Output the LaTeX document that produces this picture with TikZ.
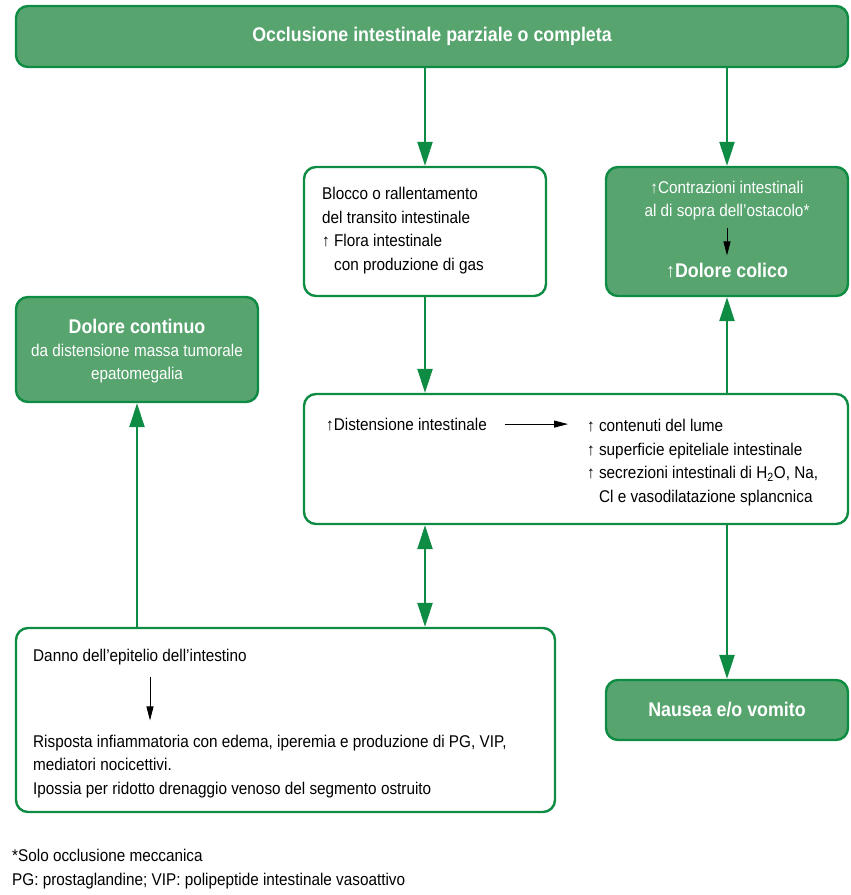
\documentclass[tikz,border=0pt]{standalone}
\usepackage{fontspec}
\setmainfont{Liberation Sans}[FakeStretch=0.9]
\usetikzlibrary{arrows.meta,positioning}
\definecolor{gfill}{HTML}{57A46F}
\definecolor{gline}{HTML}{0F8C44}

\begin{document}
\begin{tikzpicture}[x=1pt,y=-1pt,
  box/.style={draw=gline,line width=2.4pt,rounded corners=12pt,inner sep=0pt},
  gbox/.style={box,fill=gfill},
  wbox/.style={box,fill=white},
  txt/.style={inner sep=0pt,font=\fontsize{17}{23.5}\selectfont,align=left},
  wtxt/.style={inner sep=0pt,font=\fontsize{17}{23}\selectfont,align=center,text=white},
  btxt/.style={inner sep=0pt,font=\fontsize{19.8}{23}\selectfont\bfseries,text=white},
  garrow/.style={draw=gline,line width=2.6pt,-{Triangle[length=24pt,width=15pt]}},
  karrow/.style={line width=0.9pt,-{Triangle[length=14pt,width=7pt]}}]
\useasboundingbox (0,0) rectangle (851,895);

%riquadri
\node[gbox,minimum width=832pt,minimum height=61pt] (top) at (432,36.5) {};
\node[wbox,minimum width=242pt,minimum height=129pt] (blocco) at (425,231.5) {};
\node[gbox,minimum width=242pt,minimum height=129pt] (contr) at (727,231.5) {};
\node[gbox,minimum width=242pt,minimum height=105pt] (dolcont) at (137,349.5) {};
\node[wbox,minimum width=544pt,minimum height=130pt] (dist) at (576,459) {};
\node[wbox,minimum width=539pt,minimum height=184pt] (danno) at (285.5,720) {};
\node[gbox,minimum width=242pt,minimum height=60pt] (nausea) at (727,710) {};

%testi (ancorati alla linea di base dell'ultima riga)
\node[btxt] (toptxt) at (top) {Occlusione intestinale parziale o completa};
\node[txt,anchor=base west] (bloccotxt) at (322,270) {Blocco o rallentamento\\del transito intestinale\\↑ Flora intestinale\\\phantom{↑ }con produzione di gas};
\node[wtxt,anchor=base] (contr1) at (727,216) {↑Contrazioni intestinali\\al di sopra dell’ostacolo*};
\node[btxt,anchor=base] (colico) at (727,277) {\fontseries{m}\selectfont↑\bfseries Dolore colico};
\node[btxt,anchor=base] (dc1) at (137,333) {Dolore continuo};
\node[wtxt,anchor=base] (dc2) at (137,379) {da distensione massa tumorale\\epatomegalia};
\node[txt,anchor=base west] (dist1) at (326,430) {↑Distensione intestinale};
\node[txt,anchor=base west] (dist2) at (587,502) {↑ contenuti del lume\\↑ superficie epiteliale intestinale\\↑ secrezioni intestinali di H\textsubscript{2}O, Na,\\\phantom{↑ }Cl e vasodilatazione splancnica};
\node[txt,anchor=base west] (danno1) at (33,661) {Danno dell’epitelio dell’intestino};
\node[txt,anchor=base west] (danno2) at (33,794) {Risposta infiammatoria con edema, iperemia e produzione di PG, VIP,\\mediatori nocicettivi.\\Ipossia per ridotto drenaggio venoso del segmento ostruito};
\node[btxt] (nauseatxt) at (nausea) {Nausea e/o vomito};
\node[txt,anchor=base west] (note) at (12,885) {*Solo occlusione meccanica\\PG: prostaglandine; VIP: polipeptide intestinale vasoattivo};

%frecce
\draw[garrow] (top.south -| blocco) -- (blocco.north);
\draw[garrow] (top.south -| contr) -- (contr.north);
\draw[garrow] (blocco.south) -- (blocco.south |- dist.north);
\draw[garrow] (dist.north -| contr) -- (contr.south);
\draw[garrow,{Triangle[length=24pt,width=15pt]}-{Triangle[length=24pt,width=15pt]}] (dist.south -| blocco) -- (danno.north -| blocco);
\draw[garrow] (dist.south -| nausea) -- (nausea.north);
\draw[garrow] (danno.north -| dolcont) -- (dolcont.south);
\draw[karrow,shorten <=8pt,shorten >=7pt] (contr1.south) -- (colico.north);
\draw[karrow,shorten <=18pt,shorten >=19pt] (dist1.east) -- (dist1.east -| dist2.west);
\draw[karrow,shorten <=12pt,shorten >=14pt] ([xshift=117pt]danno1.south west) -- ([xshift=117pt]danno1.south west |- danno2.north);
\end{tikzpicture}
\end{document}
